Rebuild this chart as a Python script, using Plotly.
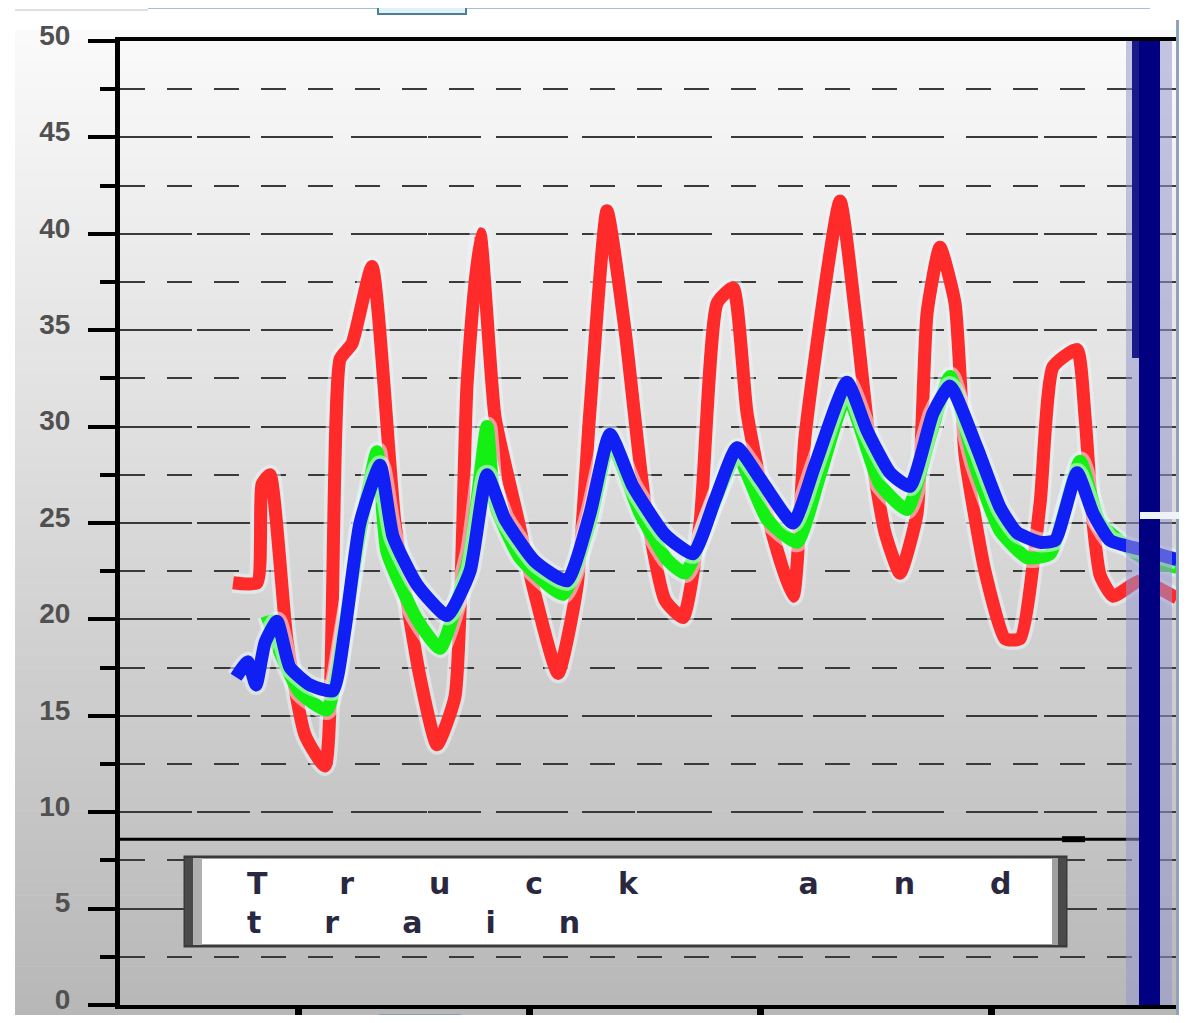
import plotly.graph_objects as go

# ---------------- data (x in hours, y values) ----------------
red_x = [17.26, 19.75, 20.26, 21.09, 22.86, 24.73, 26.80, 28.36, 29.60, 31.68, 34.06, 36.66, 38.42,
         40.29, 41.54, 42.89, 44.44, 46.72, 48.38, 50.98, 52.95, 54.30, 56.06, 57.93, 60.00, 62.08,
         63.95, 65.71, 67.48, 69.14, 70.59, 72.66, 75.36, 76.61, 80.24, 81.80, 83.35, 84.91, 86.46,
         88.23, 89.27, 90.61, 92.17, 93.21, 95.28, 97.36, 98.92, 100.99, 102.34, 104.83, 105.66,
         106.39, 107.22, 108.56, 111.37, 115.21]
red_y = [21.9, 21.9, 27.0, 27.5, 18.9, 14.0, 12.4, 33.5, 34.3, 38.3, 25.0, 17.0, 13.5,
         16.0, 32.2, 40.0, 30.5, 25.4, 21.7, 17.2, 21.7, 30.9, 41.2, 35.0, 26.0, 21.0,
         20.1, 25.0, 36.4, 37.2, 30.7, 25.5, 21.2, 29.5, 41.7, 36.0, 29.0, 24.5, 22.4,
         25.5, 35.9, 39.3, 36.4, 28.5, 22.5, 19.0, 19.0, 26.0, 33.1, 34.0, 30.5,
         25.5, 22.3, 21.2, 22.0, 21.1]

green_x = [20.78, 22.13, 24.21, 27.01, 28.88, 30.43, 32.20, 33.23, 36.35, 38.73, 41.85, 43.61,
           44.44, 47.03, 51.50, 54.30, 56.37, 59.49, 62.29, 64.16, 66.76, 69.55, 72.66, 75.78,
           78.16, 80.96, 84.38, 87.19, 89.58, 91.65, 94.24, 96.84, 99.64, 102.03, 105.14,
           107.22, 111.68, 115.21]
green_y = [20.2, 18.3, 16.2, 15.3, 19.8, 24.5, 28.7, 23.5, 20.0, 18.5, 23.5, 30.0,
           26.0, 23.2, 21.3, 25.0, 29.2, 25.5, 23.1, 22.4, 25.5, 28.5, 25.2, 24.0,
           27.5, 31.6, 27.0, 25.7, 29.5, 32.6, 28.0, 24.6, 23.2, 23.4, 28.2,
           25.0, 23.2, 22.7]

blue_x = [17.57, 18.81, 19.64, 20.58, 21.82, 23.17, 25.25, 27.63, 28.88, 30.43, 32.51, 33.86,
          36.35, 39.46, 41.85, 43.61, 45.48, 48.59, 51.91, 54.30, 56.37, 58.76, 62.08, 64.99,
          67.27, 69.55, 71.94, 75.36, 77.64, 80.96, 83.04, 85.43, 87.50, 89.89, 91.65, 94.45,
          96.84, 98.60, 100.99, 102.55, 104.83, 106.49, 108.25, 111.68, 115.21]
blue_y = [17.0, 17.8, 16.6, 18.8, 19.9, 17.5, 16.6, 16.3, 19.5, 25.0, 28.0, 24.3,
          21.8, 20.2, 22.5, 27.5, 25.2, 23.0, 22.0, 25.5, 29.6, 26.9, 24.4, 23.4,
          26.2, 28.9, 27.3, 25.0, 28.0, 32.3, 29.8, 27.6, 26.9, 30.7, 32.1, 28.9,
          25.8, 24.5, 24.0, 24.1, 27.6, 25.5, 24.1, 23.6, 23.1]

x_ticks = [24, 48, 72, 96]
y_ticks = [0, 5, 10, 15, 20, 25, 30, 35, 40, 45, 50]
legend_lines = ["Truck and", "train"]
divider_value = 8.6

# ---------------- layout geometry (screen pixels; page body has an 8px margin all round) ----------------
OFF = 8
SW, SH = 1187, 1023
L, R, T, B = 120, 1177, 41, 1005
W, H = SW - 2 * OFF, SH - 2 * OFF


def px(xp):
    return (xp - L) / (R - L)


def py(yp):
    return (B - yp) / (B - T)


fig = go.Figure()

for xs, ys, col in [(red_x, red_y, "#ff2a2a"), (green_x, green_y, "#14f014"), (blue_x, blue_y, "#1020f4")]:
    fig.add_trace(go.Scatter(x=xs, y=ys, mode="lines",
                             line=dict(color="rgba(235,245,250,0.55)", width=20, shape="spline", smoothing=0.5),
                             hoverinfo="skip", showlegend=False))
    fig.add_trace(go.Scatter(x=xs, y=ys, mode="lines",
                             line=dict(color=col, width=13, shape="spline", smoothing=0.5),
                             showlegend=False))

shapes = []
# background gradient
N = 70
top, bot = 30, 1023
for i in range(N):
    y0 = top + (bot - top) * i / N
    y1 = top + (bot - top) * (i + 1) / N
    t = (i + 0.5) / N
    g = int(round(250 - t * (250 - 183)))
    shapes.append(dict(type="rect", xref="paper", yref="paper", layer="below",
                       x0=px(15), x1=px(1187), y0=py(y0), y1=py(y1 + 0.5),
                       fillcolor=f"rgb({g},{g},{g})", line=dict(width=0)))

# divider line above legend
shapes.append(dict(type="line", xref="paper", yref="y", x0=0, x1=px(1140), y0=divider_value, y1=divider_value,
                   line=dict(color="black", width=3)))
shapes.append(dict(type="line", xref="paper", yref="y", x0=px(1062), x1=px(1085), y0=divider_value, y1=divider_value,
                   line=dict(color="black", width=6)))

# legend box
shapes.append(dict(type="rect", xref="paper", yref="paper", x0=px(185), x1=px(1066), y0=py(946), y1=py(857),
                   fillcolor="white", line=dict(color="#3a3a3a", width=3)))
shapes.append(dict(type="rect", xref="paper", yref="paper", x0=px(185), x1=px(193), y0=py(945), y1=py(858),
                   fillcolor="#4a4a4a", line=dict(width=0)))
shapes.append(dict(type="rect", xref="paper", yref="paper", x0=px(193), x1=px(202), y0=py(945), y1=py(858),
                   fillcolor="#b0b0b0", line=dict(width=0)))
shapes.append(dict(type="rect", xref="paper", yref="paper", x0=px(1052), x1=px(1058), y0=py(945), y1=py(858),
                   fillcolor="#a0a0a0", line=dict(width=0)))
shapes.append(dict(type="rect", xref="paper", yref="paper", x0=px(1058), x1=px(1066), y0=py(945), y1=py(858),
                   fillcolor="#4a4a4a", line=dict(width=0)))

# navy vertical bar and window edge
shapes.append(dict(type="rect", xref="paper", yref="paper", x0=px(1126), x1=px(1172), y0=0, y1=1,
                   fillcolor="rgba(150,150,205,0.55)", line=dict(width=0)))
shapes.append(dict(type="rect", xref="paper", yref="paper", x0=px(1132), x1=px(1140), y0=py(358), y1=1,
                   fillcolor="#1a1a8a", line=dict(width=0)))
shapes.append(dict(type="rect", xref="paper", yref="paper", x0=px(1139), x1=px(1160), y0=0, y1=1,
                   fillcolor="#000080", line=dict(width=0)))
shapes.append(dict(type="rect", xref="paper", yref="paper", x0=px(1176), x1=px(1187), y0=py(1023), y1=py(20),
                   fillcolor="#8ea3ba", line=dict(width=0)))
shapes.append(dict(type="rect", xref="paper", yref="paper", x0=px(1140), x1=px(1187), y0=py(519), y1=py(512),
                   fillcolor="#eef3f8", line=dict(width=0)))

# top / bottom window decorations
shapes.append(dict(type="line", xref="paper", yref="paper", x0=px(15), x1=px(148), y0=py(10), y1=py(10),
                   line=dict(color="#b8c4cc", width=1)))
shapes.append(dict(type="line", xref="paper", yref="paper", x0=px(148), x1=px(1150), y0=py(7), y1=py(7),
                   line=dict(color="#3d8aa0", width=3)))
shapes.append(dict(type="rect", xref="paper", yref="paper", x0=px(378), x1=px(466), y0=py(14), y1=py(5),
                   fillcolor="#dff3f7", line=dict(color="#4f7f98", width=2)))
shapes.append(dict(type="rect", xref="paper", yref="paper", x0=px(380), x1=px(460), y0=py(1023), y1=py(1015),
                   fillcolor="#eef5fa", line=dict(color="#7aa2c0", width=2)))

legend_text = (f"<span style='letter-spacing:75px'><b>{legend_lines[0]}</b></span><br>"
               f"<span style='letter-spacing:63px'><b>{legend_lines[1]}</b></span>")
annotations = [dict(xref="paper", yref="paper", x=px(245), y=py(903), xanchor="left", yanchor="middle",
                    align="left", text=legend_text, showarrow=False,
                    font=dict(family="DejaVu Sans, sans-serif", size=30, color="#2a2840"))]

fig.update_layout(
    width=W, height=H,
    margin=dict(l=L - OFF, r=W - (R - OFF), t=T - OFF, b=H - (B - OFF), autoexpand=False),
    paper_bgcolor="white", plot_bgcolor="rgba(0,0,0,0)",
    shapes=shapes, annotations=annotations,
    showlegend=False,
    xaxis=dict(range=[5.53, 115.2], tickvals=x_ticks, showticklabels=False, ticks="outside",
               ticklen=9, tickwidth=7, tickcolor="black", showline=True, linecolor="black", linewidth=4,
               mirror=True, showgrid=False, zeroline=False, fixedrange=True, automargin=False),
    yaxis=dict(range=[0, 50], tickvals=y_ticks, ticks="outside", ticklen=27, tickwidth=4, tickcolor="black",
               showline=True, linecolor="black", linewidth=5, zeroline=False, automargin=False,
               showgrid=True, gridcolor="#3a3a3a", gridwidth=2, griddash="53px,24px",
               tickfont=dict(family="Liberation Sans, Arial, sans-serif", size=28, color="#505050",
                             weight="bold"),
               ticklabelstandoff=12, ticklabeloverflow="allow", ticklabelshift=-6,
               minor=dict(dtick=2.5, tick0=0, ticks="outside", ticklen=15, tickwidth=4, tickcolor="black",
                          showgrid=True, gridcolor="#3a3a3a", gridwidth=2, griddash="25px,22px")),
)

fig.write_html("out.html")
